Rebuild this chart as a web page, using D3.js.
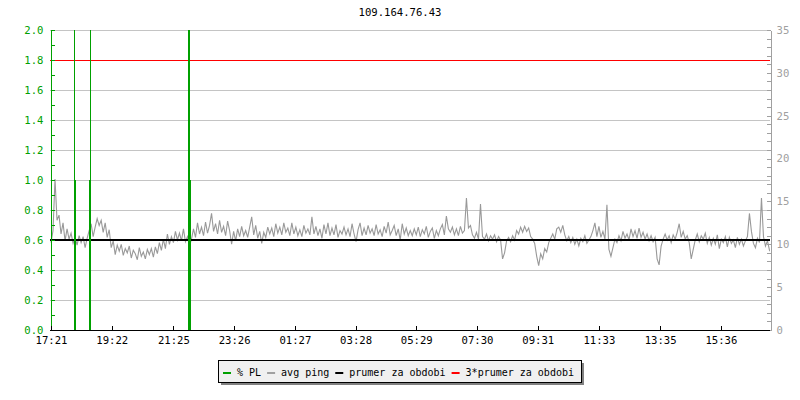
<!DOCTYPE html>
<html>
<head>
<meta charset="utf-8">
<script src="https://cdn.jsdelivr.net/npm/d3@7"></script>
<style>
  body { margin: 0; background: #fff; }
  svg { display: block; font-family: "DejaVu Sans Mono", monospace; }
</style>
</head>
<body>
<svg id="chart" width="800" height="400"></svg>
<script>
// chart data
var title = "109.164.76.43";
var startLabel = "17:21";
var timeLabels = ["17:21", "19:22", "21:25", "23:26", "01:27", "03:28", "05:29", "07:30", "09:31", "11:33", "13:35", "15:36"];
var spanMinutes = 1433;
var pingStep = 4; // minutes between ping samples
var pingValues = [
  10.2, 11.6, 17.6, 12.8, 13.4, 11.2, 12.5, 10.4, 11.8, 10.6,
  11.3, 10.1, 10.8, 9.9, 11.0, 10.2, 10.9, 9.6, 10.7, 11.6,
  12.4, 10.9, 12.0, 13.0, 12.2, 12.8, 11.4, 12.5, 10.8, 11.7,
  9.6, 10.4, 8.8, 9.9, 9.2, 10.0, 8.7, 9.5, 9.0, 9.8,
  8.4, 9.3, 8.9, 8.2, 9.6, 8.6, 9.1, 8.3, 9.4, 8.8,
  9.5, 8.5, 9.7, 8.9, 10.2, 9.3, 10.6, 9.5, 11.2, 10.0,
  10.9, 10.2, 11.5, 10.5, 11.3, 10.4, 11.8, 10.3, 10.9, 9.8,
  10.6, 11.8, 10.8, 12.5, 11.2, 12.0, 11.0, 12.6, 11.3, 12.2,
  13.6, 11.5, 12.4, 11.2, 12.8, 11.4, 12.1, 11.0, 12.7, 11.6,
  10.0, 11.5, 10.4, 11.8, 10.9, 12.1, 11.0, 11.6, 10.8, 12.0,
  13.2, 11.1, 12.2, 10.7, 11.5, 10.1, 11.4, 10.8, 12.0, 11.2,
  11.9, 10.9, 12.4, 11.3, 12.0, 11.1, 12.5, 11.4, 11.9, 11.0,
  12.5, 11.2, 12.0, 11.0, 11.7, 10.9, 12.2, 11.3, 11.8, 11.1,
  13.2, 11.2, 12.1, 11.0, 11.8, 10.7, 12.3, 11.2, 12.5, 11.0,
  11.9, 11.1, 12.3, 10.8, 11.6, 11.2, 12.0, 11.1, 11.8, 10.9,
  12.4, 11.2, 10.3, 11.7, 12.5, 11.0, 11.9, 11.1, 12.2, 11.3,
  11.8, 11.0, 12.3, 11.2, 11.7, 10.9, 12.1, 11.3, 12.6, 11.1,
  11.6, 12.2, 11.0, 11.8, 10.5, 12.4, 11.2, 11.9, 11.0, 11.6,
  11.0, 11.8, 11.1, 12.0, 10.9, 11.7, 11.2, 12.1, 10.8, 11.5,
  11.9, 10.7, 11.6, 11.0, 11.8, 12.3, 11.1, 13.3, 11.8, 11.4,
  12.0, 11.1, 11.8, 11.0, 12.1, 11.3, 11.6, 15.4, 11.9, 12.2,
  11.1, 10.7, 11.4, 10.6, 14.7, 10.9, 10.6, 11.2, 10.4, 11.0,
  10.6, 11.1, 10.3, 10.9, 10.5, 8.3, 9.0, 10.4, 10.8, 10.3,
  11.0, 10.5, 11.6, 11.2, 12.0, 11.4, 12.1, 11.5, 11.9, 10.9,
  10.6, 10.1, 8.6, 7.5, 8.9, 8.3, 9.5, 9.1, 10.2, 10.7,
  11.2, 10.6, 11.8, 12.0, 11.4, 12.2, 11.1, 10.4, 10.9, 10.2,
  10.8, 10.0, 10.6, 9.8, 10.7, 10.3, 11.0, 10.1, 10.5, 10.9,
  11.6, 12.5, 10.9, 12.1, 10.8, 11.5, 10.6, 14.6, 9.4, 8.6,
  9.6, 10.6, 10.2, 11.0, 10.4, 11.5, 10.7, 11.2, 10.5, 11.8,
  10.9, 11.6, 10.7, 11.9, 10.8, 11.4, 10.6, 11.2, 10.4, 11.0,
  10.3, 10.8, 8.3, 7.6, 9.8, 10.6, 11.2, 10.5, 11.0, 10.2,
  11.1, 10.6, 11.4, 12.4, 10.8, 11.5, 10.6, 11.0, 10.2, 8.3,
  9.4, 10.5, 11.2, 10.3, 11.0, 10.6, 11.3, 10.1, 10.8, 9.9,
  10.7, 10.0, 11.1, 9.5, 10.6, 10.2, 10.9, 9.7, 10.8, 10.1,
  10.5, 9.6, 10.8, 10.0, 10.6, 9.8, 10.4, 10.9, 13.6, 11.5,
  10.1, 9.6, 10.7, 10.2, 15.4, 10.9, 9.8, 10.4, 9.3, 9.0
];
var plMinutes = [46, 48, 76, 78, 274, 276, 278];
var plValues = [3.0, 1.0, 1.0, 3.0, 3.0, 3.0, 1.0];
var avgPing = 10.5;
var legendNames = ["% PL", "avg ping", "prumer za obdobi", "3*prumer za obdobi"];
var legendColors = ["#00a000", "#a0a0a0", "#000000", "#ff0000"];

document.addEventListener('DOMContentLoaded', function() {
  drawChart();
});

function minutesFromStart(label) {
  var s = startLabel.split(":"), t = label.split(":");
  var m = (+t[0] * 60 + +t[1]) - (+s[0] * 60 + +s[1]);
  if (m < 0) m += 1440;
  return m;
}

function drawChart() {
  var svg = d3.select('#chart');
  var left = 50, right = 770, top = 30, bottom = 330;

  var x = d3.scaleLinear().domain([0, spanMinutes]).range([left + 1, right]);
  var yL = d3.scaleLinear().domain([0, 2]).range([bottom, top]);
  var yR = d3.scaleLinear().domain([0, 35]).range([bottom, top]);

  //title
  svg.append("text")
      .attr("x", 400)
      .attr("y", 16)
      .attr("text-anchor", "middle")
      .style("font-size", "10.6px")
      .text(title);

  svg.append("clipPath").attr("id", "plot-clip")
    .append("rect")
      .attr("x", left).attr("y", top)
      .attr("width", right - left).attr("height", bottom - top);

  //grid lines
  svg.append("g")
      .attr("class", "grid")
    .selectAll("line")
      .data(d3.range(1, 11).map(function(i) { return i * 0.2; }))
      .enter()
      .append("line")
      .attr("x1", left)
      .attr("x2", right)
      .attr("y1", function(d) { return Math.round(yL(d)) + 0.5; })
      .attr("y2", function(d) { return Math.round(yL(d)) + 0.5; })
      .attr("stroke", "#c4c4c4")
      .attr("shape-rendering", "crispEdges");

  //3*average
  svg.append("line")
      .attr("x1", left).attr("x2", right)
      .attr("y1", Math.round(yR(avgPing * 3)) + 0.5)
      .attr("y2", Math.round(yR(avgPing * 3)) + 0.5)
      .attr("stroke", "#ff0000")
      .attr("shape-rendering", "crispEdges");

  //avg ping
  var line = d3.line()
      .x(function(d, i) { return x(i * pingStep); })
      .y(function(d) { return yR(d); });

  svg.append("path")
      .datum(pingValues)
      .attr("clip-path", "url(#plot-clip)")
      .attr("d", line)
      .attr("fill", "none")
      .attr("stroke", "#999")
      .attr("stroke-width", 1.1);

  //average
  svg.append("line")
      .attr("x1", left).attr("x2", right)
      .attr("y1", yR(avgPing))
      .attr("y2", yR(avgPing))
      .attr("stroke", "#000")
      .attr("stroke-width", 2)
      .attr("shape-rendering", "crispEdges");

  //packet loss impulses
  svg.append("g")
      .attr("clip-path", "url(#plot-clip)")
    .selectAll("rect")
      .data(plMinutes)
      .enter()
      .append("rect")
      .attr("x", function(d) { return Math.round(x(d)); })
      .attr("width", 1)
      .attr("y", function(d, i) { return yL(Math.min(plValues[i], 2)); })
      .attr("height", function(d, i) { return bottom - yL(Math.min(plValues[i], 2)); })
      .attr("fill", "#00a000")
      .attr("shape-rendering", "crispEdges");

  //left axis
  var leftAxis = svg.append("g")
      .attr("transform", "translate(" + (left + 0.5) + ",0)")
      .call(d3.axisLeft(yL)
        .tickValues(d3.range(0, 21).map(function(i) { return i / 10; }))
        .tickFormat(function(d, i) { return i % 2 == 0 ? d3.format(".1f")(d) : ""; })
        .tickSizeInner(-4)
        .tickSizeOuter(0)
        .tickPadding(7));
  leftAxis.selectAll("path, line").attr("stroke", "#00a000").attr("shape-rendering", "crispEdges");
  leftAxis.selectAll("text").attr("fill", "#00a000").style("font-size", "10.6px").style("font-family", "DejaVu Sans Mono");

  //right axis
  var rightAxis = svg.append("g")
      .attr("transform", "translate(" + (right + 0.5) + ",0)")
      .call(d3.axisRight(yR)
        .tickValues(d3.range(0, 36))
        .tickFormat(function(d) { return d % 5 == 0 ? d : ""; })
        .tickSizeInner(-4)
        .tickSizeOuter(0)
        .tickPadding(6));
  rightAxis.selectAll("path, line").attr("stroke", "#a0a0a0").attr("shape-rendering", "crispEdges");
  rightAxis.selectAll("text").attr("fill", "#a0a0a0").style("font-size", "10.6px").style("font-family", "DejaVu Sans Mono");

  //bottom axis
  var bottomAxis = svg.append("g")
      .attr("transform", "translate(0," + (bottom + 0.5) + ")")
      .call(d3.axisBottom(x)
        .tickValues(timeLabels.map(minutesFromStart))
        .tickFormat(function(d, i) { return timeLabels[i]; })
        .tickSizeInner(-5)
        .tickSizeOuter(0)
        .tickPadding(6));
  bottomAxis.select("path").attr("d", "M" + left + ",0H" + right);
  bottomAxis.selectAll("path, line").attr("stroke", "#000").attr("shape-rendering", "crispEdges");
  bottomAxis.selectAll("text").attr("fill", "#000").style("font-size", "10.6px").style("font-family", "DejaVu Sans Mono");

  //legend
  var legend = svg.append("g").attr("class", "legend");
  var shadow = legend.append("rect");
  var box = legend.append("rect");
  var lx = 223, ly = 376;
  legendNames.forEach(function(name, i) {
    legend.append("rect")
        .attr("x", lx).attr("y", ly - 4)
        .attr("width", 8).attr("height", 2)
        .attr("fill", legendColors[i]);
    var t = legend.append("text")
        .attr("x", lx + 14)
        .attr("y", ly)
        .style("font-size", "10px")
        .text(name);
    lx = lx + 14 + t.node().getComputedTextLength() + 6;
  });
  box.attr("x", 218.5).attr("y", 360.5)
      .attr("width", lx + 1 - 218).attr("height", 22)
      .attr("fill", "#f0f0f0").attr("stroke", "#000")
      .attr("shape-rendering", "crispEdges");
  shadow.attr("x", 221).attr("y", 363)
      .attr("width", lx + 1 - 218).attr("height", 22)
      .attr("fill", "#808080");
}
</script>
</body>
</html>
